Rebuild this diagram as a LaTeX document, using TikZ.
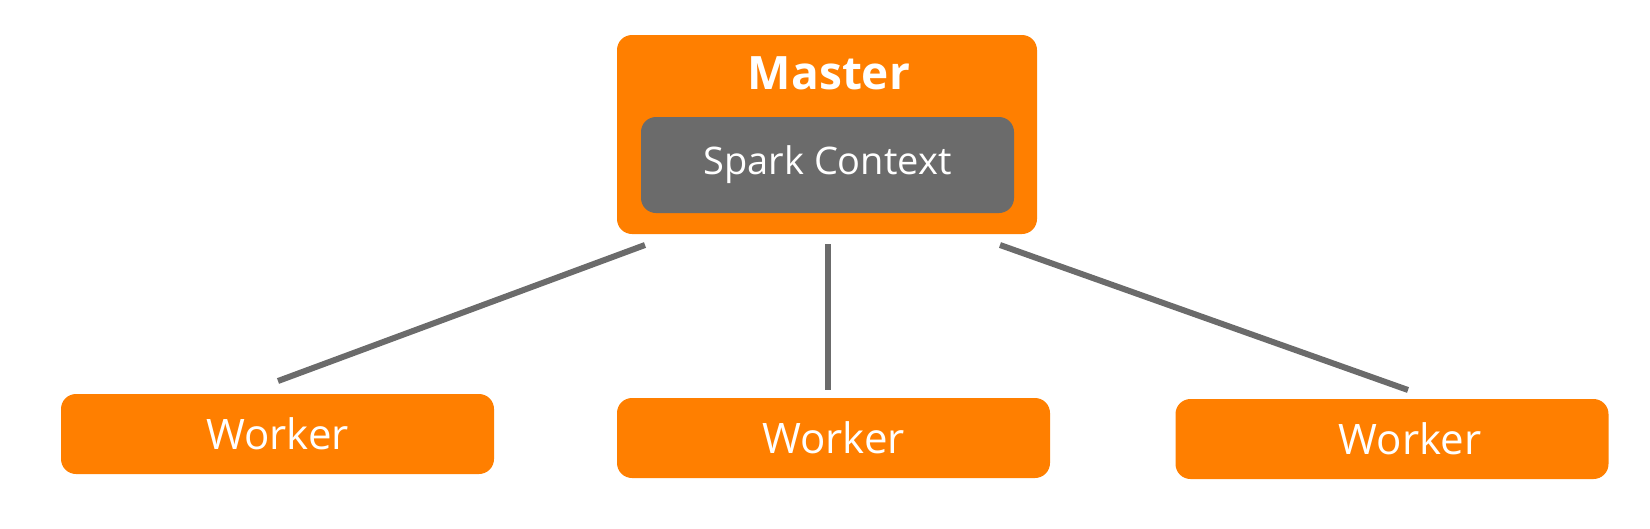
\documentclass[tikz,border=0pt]{standalone}
\usepackage{fontspec}
\setmainfont{Open Sans}
\definecolor{sparkorange}{HTML}{FF7F00}
\definecolor{sparkgray}{HTML}{6B6B6B}
\tikzstyle{box}=[fill=sparkorange,rounded corners=15pt,inner sep=0pt]
\tikzstyle{context}=[fill=sparkgray,rounded corners=15pt,inner sep=0pt,minimum width=373pt,minimum height=96pt,text=white,font=\fontsize{38}{42}\selectfont]
\tikzstyle{worker}=[box,minimum width=433pt,minimum height=80pt]
\tikzstyle{txt}=[text=white,inner sep=0pt]
\tikzstyle{link}=[draw,sparkgray,line width=6pt]

\begin{document}
\begin{tikzpicture}[x=1pt, y=-1pt]
    \useasboundingbox (0,0) rectangle (1650,528);
    % Master with its context
    \node[box,minimum width=420pt,minimum height=199pt] (master) at (827,134.5) {};
    \node[txt,font=\fontsize{46}{50}\selectfont\bfseries] (mastertext) at (829,73) {Master};
    \node[context] (ctx) at (827.5,165) {Spark Context};
    % Workers
    \foreach \pos/\name in {{(277.5,434)/w1}, {(833.5,438)/w2}, {(1392,439)/w3}}
        \node[worker] (\name) at \pos {};
    \foreach \pos/\name in {{(277.5,434)/t1}, {(833.5,438)/t2}, {(1410,439)/t3}}
        \node[txt,font=\fontsize{42}{46}\selectfont] (\name) at \pos {Worker};
    % Free ends of the links
    \coordinate (a1) at (645,245);
    \coordinate (a2) at (828,244);
    \coordinate (a3) at (1000,245);
    \coordinate (b1) at (278,381);
    \coordinate (b2) at (828,390);
    \coordinate (b3) at (1408,390);
    \foreach \src/\dst in {a1/b1, a2/b2, a3/b3}
        \path[link] (\src) -- (\dst);
\end{tikzpicture}
\end{document}
